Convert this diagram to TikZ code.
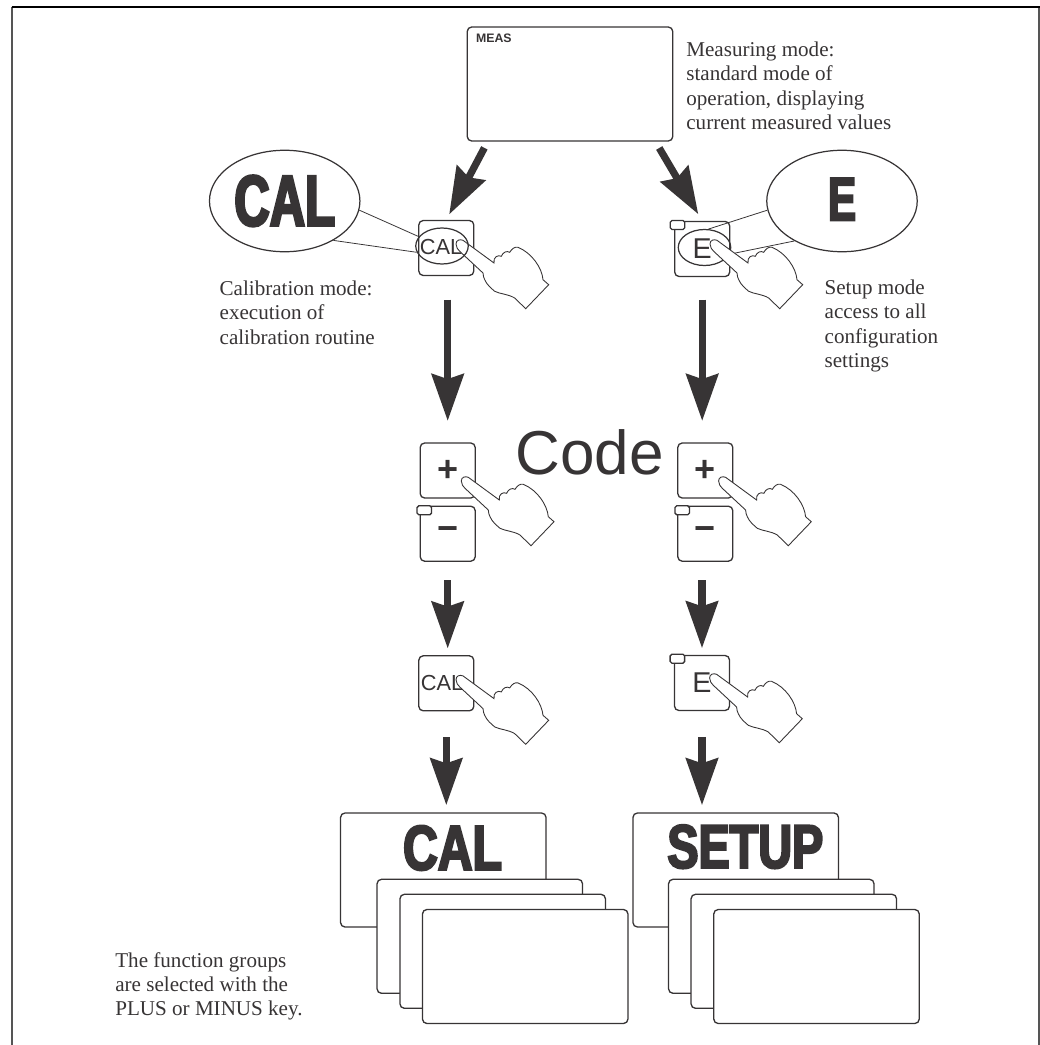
\documentclass[tikz,border=0pt]{standalone}
\usepackage{fontspec}
\usepackage{xcolor}
\usepackage{tikz}
\usetikzlibrary{arrows.meta}
\setmainfont{Liberation Serif}
\newfontfamily\keyfont{Liberation Sans}
\newfontfamily\capsfont{Liberation Sans}[FakeStretch=0.76,BoldFeatures={FakeBold=3.5}]
\newfontfamily\tallcapsfont{Liberation Sans}[FakeStretch=0.68,BoldFeatures={FakeBold=3.5}]
\definecolor{inkgrey}{RGB}{55, 52, 53}
\definecolor{framegrey}{RGB}{85, 85, 85}
\tikzset{
	panel/.style={draw=inkgrey, fill=white, line width=0.75pt, rounded corners=2.5pt, inner sep=0pt, minimum width=4.11cm, minimum height=2.28cm},
	keybox/.style={draw=inkgrey, fill=white, line width=0.75pt, rounded corners=2.5pt, inner sep=0pt, minimum size=1.1cm, text=inkgrey, font=\keyfont\fontsize{16.3}{18}\selectfont},
	signkey/.style={keybox, font=\keyfont\bfseries\fontsize{20.5}{22}\selectfont},
	ledbox/.style={draw=inkgrey, fill=white, line width=0.75pt, rounded corners=1pt, inner sep=0pt, minimum width=0.29cm, minimum height=0.18cm},
	bigoval/.style={draw=inkgrey, ellipse, line width=0.7pt, inner sep=0pt, minimum width=3.01cm, minimum height=2.03cm, text=inkgrey},
	smalloval/.style={draw=inkgrey, ellipse, line width=0.7pt, inner sep=0pt, minimum width=1.05cm, minimum height=0.72cm},
	leader/.style={draw=inkgrey, line width=0.45pt},
	bigarrow/.style={draw=inkgrey, line width=4.1pt, -{Stealth[length=26.6pt, width=18.1pt, inset=2.8pt]}},
	note/.style={anchor=north west, inner sep=0pt, align=left, text=inkgrey, font=\fontsize{12}{13.85}\selectfont},
	hand/.pic={
		\draw[draw=inkgrey, fill=white, line width=0.5pt]
			(36,20) -- (5,-2.7) .. controls (2,-4) and (-2,-3) .. (-2,1)
			.. controls (-2,4) and (0,7) .. (1.7,8.3) -- (25,30)
			.. controls (25,33) and (26,35) .. (26.7,36.7)
			.. controls (29,42) and (33,45) .. (36.7,48.3)
			.. controls (42,51) and (50,51) .. (56.7,55)
			-- (67.7,65.7) -- (90.7,41.7) -- (85,36.7)
			.. controls (84,25) and (74,10) .. (60,4.3)
			.. controls (57,3.5) and (54,5.5) .. (51.7,9.3)
			.. controls (49,7.5) and (45,9) .. (43.3,13.3)
			.. controls (40,11.5) and (35,14) .. (36,20) -- cycle;
	}
}
\usetikzlibrary{shapes.geometric}

\begin{document}
\begin{tikzpicture}[x=0.02cm, y=-0.02cm]
	\useasboundingbox (0,0) rectangle (1040,1045);

	% --- outer frame, open at the bottom ---
	\draw[framegrey, line width=1.1pt] (12,7) -- (12,1045);
	\draw[framegrey, line width=1.1pt] (1039,7) -- (1039,1045);
	\draw[black, line width=1.1pt] (11.5,7) -- (1039.5,7);

	% --- display ---
	\node[panel] (display) at (570,84) {};
	\node[anchor=base west, inner sep=0pt, text=inkgrey, font=\keyfont\bfseries\fontsize{7}{8}\selectfont] (meastext) at (475.7,42.7) {MEAS};
	\node[note] (measnote) at (686,41.5) {Measuring mode:\\standard mode of\\operation, displaying\\current measured values};

	% --- CAL key, top ---
	\node[keybox] (calkey) at (446.3,248) {};
	\node[inner sep=0pt, text=inkgrey, font=\keyfont\fontsize{12.4}{14}\selectfont] (calkeytext) at (441,247) {CAL};
	\pic (calhand) at (458,243) {hand};
	\node[smalloval] (calring) at (442,246) {};
	\node[bigoval, font=\tallcapsfont\bfseries\fontsize{41}{44}\selectfont] (calbig) at (284.7,201) {\raisebox{0.5pt}{CAL}};
	\draw[leader] (calbig.-7.6) -- (calring.158.6);
	\draw[leader] (calbig.-39.5) -- (calring.194);
	\node[note] (calnote) at (219.3,280.5) {Calibration mode:\\execution of\\calibration routine};

	% --- E key, top ---
	\node[keybox] (ekey) at (702.2,249) {E};
	\node[ledbox] (ekeyled) at (677.5,225) {};
	\node[smalloval] (ering) at (704.5,247.5) {};
	\node[bigoval, font=\tallcapsfont\bfseries\fontsize{35}{38}\selectfont] (ebig) at (842,201) {\raisebox{2pt}{E}};
	\draw[leader] (ebig.187) -- (ering.78);
	\draw[leader] (ebig.220) -- (ering.-15);
	\pic (ehand) at (712,243) {hand};
	\node[note] (enote) at (824.3,279.5) {Setup mode\\access to all\\configuration\\settings};

	% --- code entry ---
	\node[anchor=base west, inner sep=0pt, text=inkgrey, font=\keyfont\fontsize{35.3}{38}\selectfont] (codetext) at (515,474) {Code};

	\node[signkey] (calplus) at (447.7,470.5) {+};
	\node[signkey] (calminus) at (447.7,533.7) {−};
	\node[ledbox] (called) at (424.3,510.3) {};
	\pic (plushandl) at (463.3,480) {hand};

	\node[signkey] (eplus) at (705.3,470.5) {+};
	\node[signkey] (eminus) at (705.3,533.7) {−};
	\node[ledbox] (eled) at (682.2,510.3) {};
	\pic (plushandr) at (720.6,480) {hand};

	% --- lower keys ---
	\node[keybox] (callow) at (446.3,683.3) {};
	\node[inner sep=0pt, text=inkgrey, font=\keyfont\fontsize{12.4}{14}\selectfont] (callowtext) at (442,683) {CAL};
	\pic (callowhand) at (458,678.6) {hand};

	\node[keybox] (elow) at (702,683) {E};
	\node[ledbox] (elowled) at (677.4,658.7) {};
	\pic (elowhand) at (711.6,677) {hand};

	% --- CAL stack ---
	\node[panel] (calstack) at (443.3,870) {};
	\node[inner sep=0pt, text=inkgrey, font=\capsfont\bfseries\fontsize{36}{40}\selectfont] (calstacktext) at (452.5,848) {CAL};
	\node[panel] (calcarda) at (479.8,936.3) {};
	\node[panel] (calcardb) at (502.7,951.3) {};
	\node[panel] (calcardc) at (525.2,966.5) {};

	% --- SETUP stack ---
	\node[panel] (setupstack) at (735.7,870) {};
	\node[inner sep=0pt, text=inkgrey, font=\capsfont\bfseries\fontsize{35}{38}\selectfont] (setuptext) at (745.3,846.7) {SETUP};
	\node[panel] (setupcarda) at (771.3,936.3) {};
	\node[panel] (setupcardb) at (793.8,951.3) {};
	\node[panel] (setupcardc) at (816.5,966.5) {};

	\node[note] (groupnote) at (115,952) {The function groups\\are selected with the\\PLUS or MINUS key.};

	% --- arrows ---
	\draw[bigarrow, shorten <=4pt, shorten >=3.5pt] (display.215.8) -- (calkey.north);
	\draw[bigarrow, shorten <=4.2pt, shorten >=4.4pt] (display.-34.2) -- (ekey.north);

	\draw[bigarrow, shorten <=13.4pt, shorten >=12.2pt] (calplus.north |- calkey.south) -- (calplus.north);
	\draw[bigarrow, shorten <=10.4pt, shorten >=3.8pt] (calminus.south) -- (calminus.south |- callow.north);
	\draw[bigarrow, xshift=0.8pt, shorten <=14.6pt, shorten >=4.1pt] (callow.south) -- (callow.south |- calstack.north);

	\draw[bigarrow, xshift=0.6pt, shorten <=12.8pt, shorten >=12.2pt] (ekey.south) -- (ekey.south |- eplus.north);
	\draw[bigarrow, xshift=1.1pt, shorten <=10.4pt, shorten >=3.8pt] (elow.north |- eminus.south) -- (elow.north);
	\draw[bigarrow, xshift=1.1pt, shorten <=14.6pt, shorten >=4.1pt] (elow.south) -- (elow.south |- setupstack.north);
\end{tikzpicture}
\end{document}
